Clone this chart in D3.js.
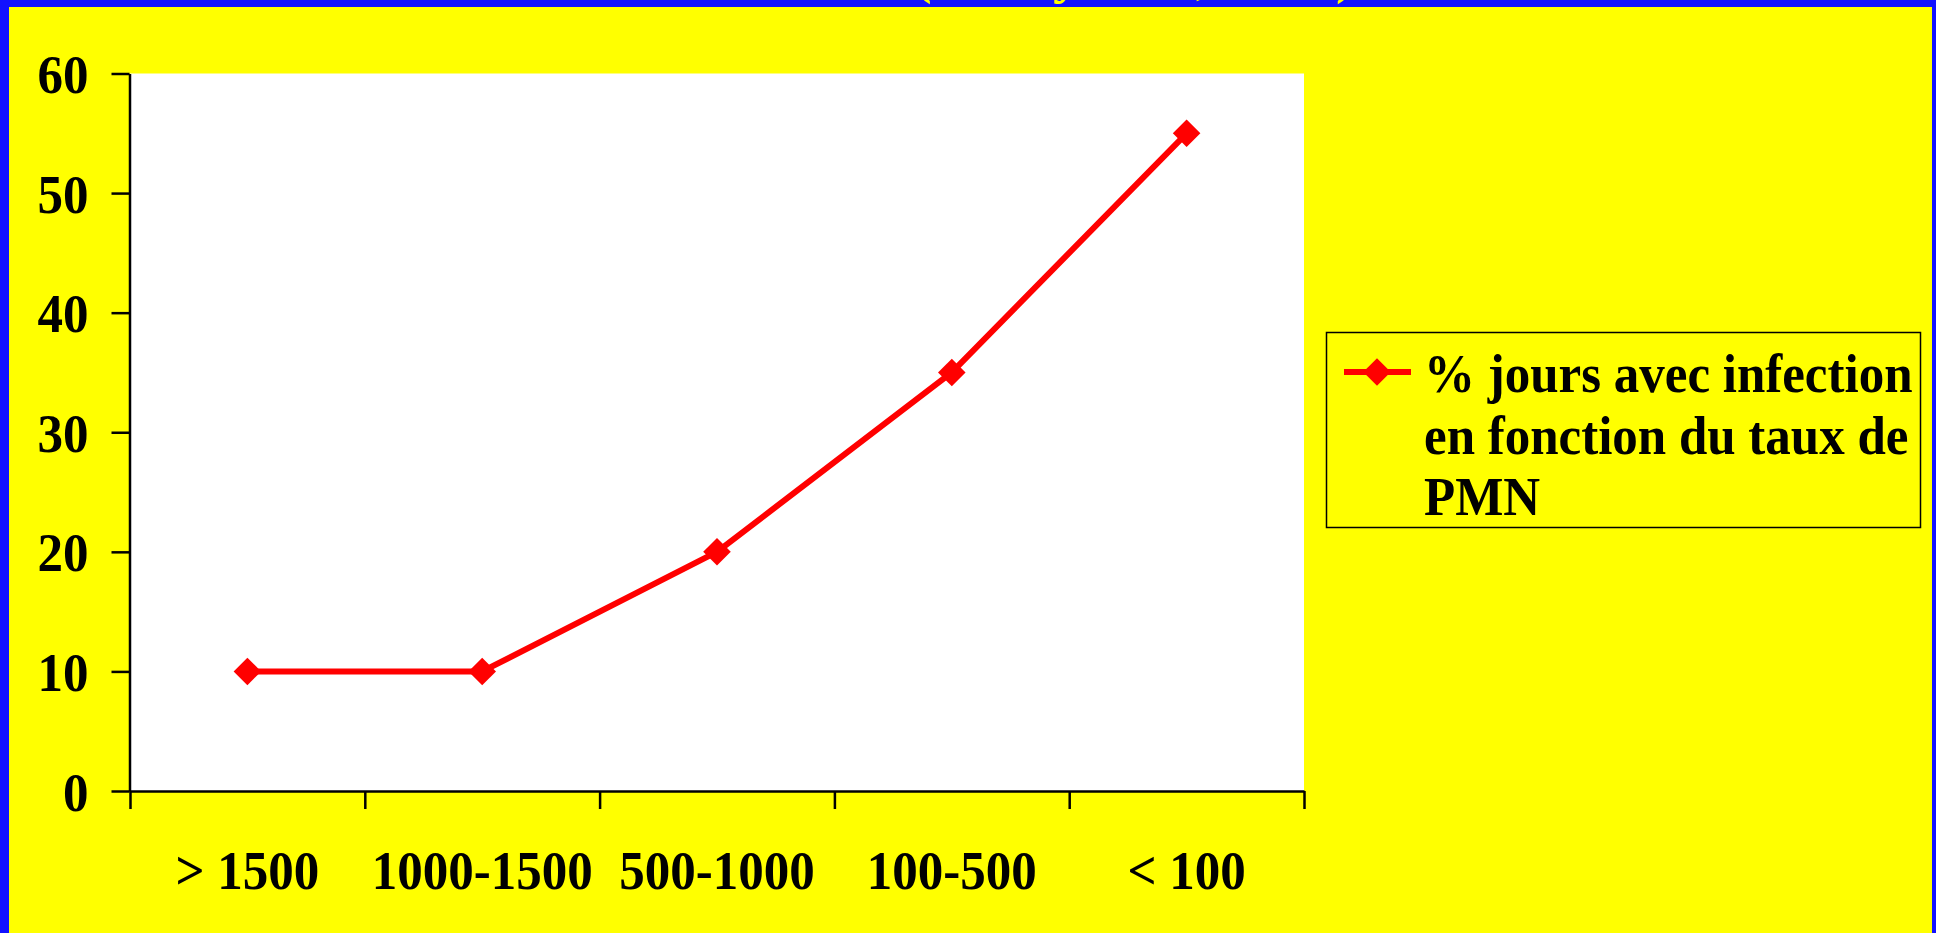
<!DOCTYPE html>
<html>
<head>
<meta charset="utf-8">
<script src="https://cdn.jsdelivr.net/npm/d3@7"></script>
<style>
  html, body { margin: 0; padding: 0; background: #1212ff; overflow: hidden; }
  svg { display: block; }
  text { font-family: "Liberation Serif", "Times New Roman", serif; font-weight: bold; }
</style>
</head>
<body>
<script>
// Neutrophil count classes (PMN / mm3) and share of days with infection (%)
const categories = ["> 1500", "1000-1500", "500-1000", "100-500", "< 100"];
const infectionPct = [10, 10, 20, 35, 55];
const yTicks = [0, 10, 20, 30, 40, 50, 60];
const seriesName = ["% jours avec infection", "en fonction du taux de", "PMN"];
const titleTail = "(Bodey et al, 1966)";

const W = 1936, H = 933;
const plot = { left: 130, right: 1304, top: 73.5, bottom: 791 };
const TXT = 51, STRETCH = 1.07;   // slide text is slightly tall

const svg = d3.select("body").append("svg")
  .attr("width", W).attr("height", H);

// frame: blue edge with yellow slide background
svg.append("rect").attr("x", 0).attr("y", 0).attr("width", W).attr("height", H).attr("fill", "#1212ff");
svg.append("rect").attr("x", 9).attr("y", 7).attr("width", 1932 - 9).attr("height", H - 7).attr("fill", "#ffff00");

// white plotting area
svg.append("rect")
  .attr("x", plot.left).attr("y", plot.top)
  .attr("width", plot.right - plot.left).attr("height", plot.bottom - plot.top)
  .attr("fill", "#ffffff");

const x = d3.scaleBand().domain(categories).range([plot.left, plot.right]);
const xEdges = d3.scaleLinear().domain([0, categories.length]).range([plot.left, plot.right]);
const y = d3.scaleLinear().domain([0, 60]).range([plot.bottom, plot.top]);

// y axis
const yAxis = svg.append("g")
  .attr("transform", `translate(${plot.left - 0.5},0)`)
  .call(d3.axisLeft(y).tickValues(yTicks).tickSize(18).tickSizeOuter(0).tickPadding(23));
yAxis.select(".domain").attr("stroke", "#000").attr("stroke-width", 2.5);
yAxis.selectAll(".tick line").attr("stroke", "#000").attr("stroke-width", 2.5);
yAxis.selectAll(".tick text")
  .attr("font-size", TXT).attr("fill", "#000")
  .attr("font-family", null)
  .attr("dy", null).attr("y", 0)
  .attr("transform", `translate(0,19) scale(1,${STRETCH})`);

// x axis: tick marks at class boundaries
const xAxis = svg.append("g")
  .attr("transform", `translate(0,${plot.bottom})`)
  .call(d3.axisBottom(xEdges).tickValues(d3.range(categories.length + 1)).tickSize(18).tickSizeOuter(0).tickFormat(""));
xAxis.select(".domain").attr("stroke", "#000").attr("stroke-width", 2.5);
xAxis.selectAll(".tick line").attr("stroke", "#000").attr("stroke-width", 2.5);

// category labels centred in each class
svg.append("g").selectAll("text")
  .data(categories).join("text")
  .attr("transform", d => `translate(${x(d) + x.bandwidth() / 2},889) scale(1,${STRETCH})`)
  .attr("text-anchor", "middle")
  .attr("font-size", TXT)
  .attr("fill", "#000")
  .text(d => d);

// series line
const pts = categories.map((c, i) => [x(c) + x.bandwidth() / 2, y(infectionPct[i])]);
svg.append("path")
  .datum(pts)
  .attr("d", d3.line())
  .attr("fill", "none")
  .attr("stroke", "#ff0000")
  .attr("stroke-width", 6)
  .attr("stroke-linejoin", "round");

const diamond = d3.symbol().type(d3.symbolSquare).size(19.5 * 19.5);
svg.append("g").selectAll("path")
  .data(pts).join("path")
  .attr("d", diamond)
  .attr("transform", d => `translate(${d[0]},${d[1]}) rotate(45)`)
  .attr("fill", "#ff0000");

// legend
const lg = svg.append("g");
lg.append("rect")
  .attr("x", 1326.5).attr("y", 332.5).attr("width", 594).attr("height", 195)
  .attr("fill", "none").attr("stroke", "#000").attr("stroke-width", 1.5);
lg.append("line")
  .attr("x1", 1344).attr("x2", 1411).attr("y1", 372).attr("y2", 372)
  .attr("stroke", "#ff0000").attr("stroke-width", 6);
lg.append("path")
  .attr("d", diamond)
  .attr("transform", "translate(1377,372) rotate(45)")
  .attr("fill", "#ff0000");
lg.selectAll("text.lab")
  .data(seriesName).join("text")
  .attr("class", "lab")
  .attr("transform", (d, i) => `translate(1424,${392 + i * 61.5}) scale(1,${STRETCH})`)
  .attr("font-size", TXT)
  .attr("fill", "#000")
  .attr("xml:space", "preserve")
  .text(d => d);

// title line, running off the top edge of the slide
svg.append("text")
  .attr("x", 913).attr("y", -8.5)
  .attr("font-size", 56)
  .attr("fill", "#ffff00")
  .text(titleTail);
</script>
</body>
</html>
